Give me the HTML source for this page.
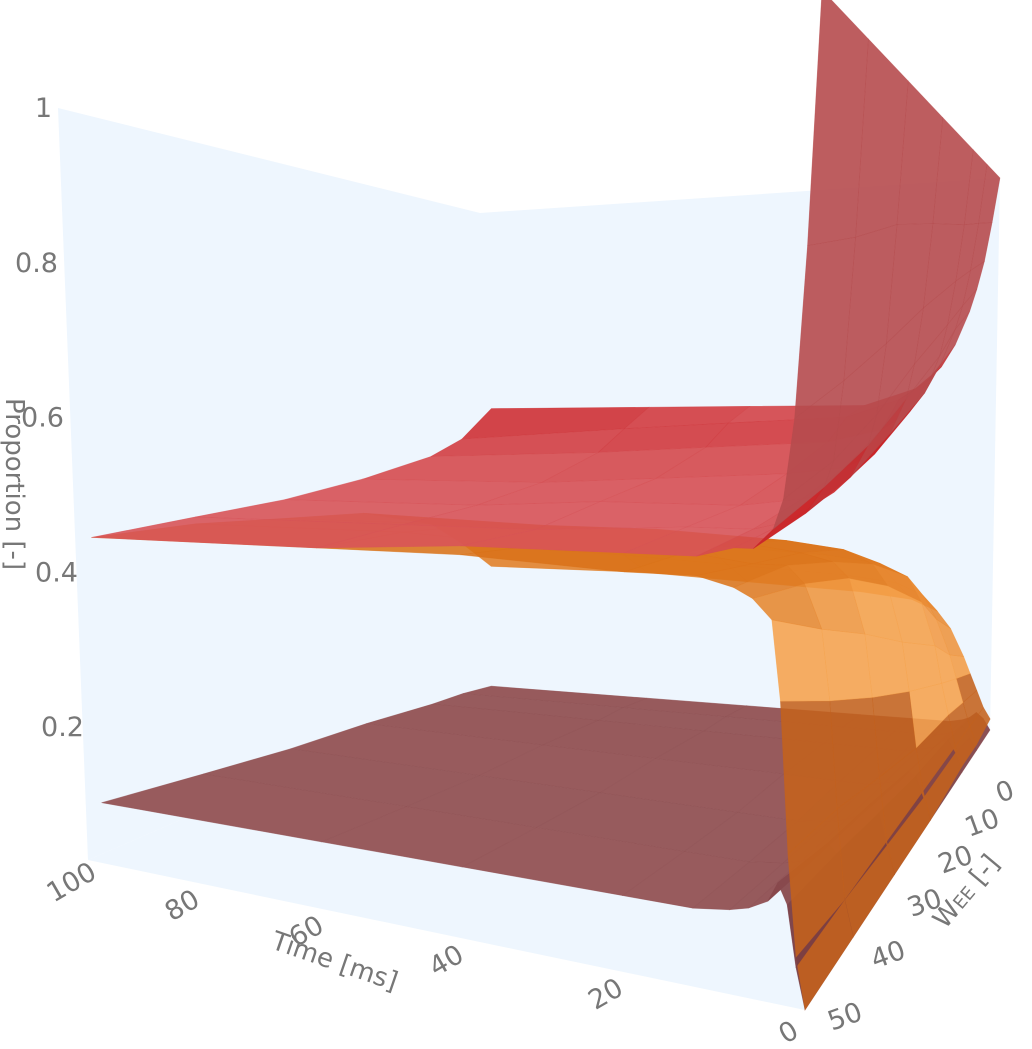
<!DOCTYPE html>
<html><head><meta charset="utf-8"><style>
html,body{margin:0;padding:0;background:#fff;}
svg{display:block;font-family:"DejaVu Sans","Liberation Sans",sans-serif;}
.tk{fill:#777;font-size:27px;}
.tt{fill:#777;font-size:26px;}
</style></head><body>
<svg id="chart" width="1032" height="1049" viewBox="0 0 1032 1049" xmlns="http://www.w3.org/2000/svg">
<g id="panes"></g>
<g id="surfaces"></g>
<g id="labels"></g>
</svg>
<script>
// ---- data ----
const timeVals = [97, 60, 40, 20, 12, 8, 6, 4, 3, 2, 1, 0];
const weeVals = [0, 5, 10, 20, 30, 40, 50];
const redVals = [
 [0.59,0.59,0.59,0.59,0.62,0.66,0.70,0.76,0.80,0.85,0.92,1.0],
 [0.53,0.55,0.56,0.57,0.60,0.63,0.66,0.72,0.76,0.82,0.90,1.0],
 [0.50,0.51,0.52,0.53,0.55,0.58,0.61,0.67,0.72,0.79,0.88,1.0],
 [0.47,0.47,0.48,0.49,0.50,0.52,0.55,0.60,0.65,0.73,0.85,1.0],
 [0.45,0.45,0.46,0.46,0.47,0.48,0.50,0.54,0.58,0.67,0.82,1.0],
 [0.44,0.44,0.44,0.45,0.45,0.46,0.47,0.50,0.53,0.62,0.78,1.0],
 [0.43,0.43,0.44,0.44,0.44,0.45,0.45,0.47,0.50,0.58,0.75,1.0]];
const orangeVals = [
 [0.26,0.26,0.25,0.24,0.23,0.21,0.18,0.13,0.10,0.07,0.04,0.02],
 [0.32,0.31,0.30,0.29,0.28,0.26,0.22,0.16,0.12,0.08,0.04,0.01],
 [0.37,0.36,0.35,0.34,0.33,0.31,0.27,0.20,0.14,0.09,0.04,0.01],
 [0.41,0.40,0.40,0.39,0.38,0.36,0.33,0.25,0.18,0.10,0.04,0.0],
 [0.42,0.42,0.41,0.41,0.40,0.39,0.37,0.30,0.22,0.12,0.04,0.0],
 [0.43,0.43,0.42,0.42,0.41,0.41,0.39,0.34,0.26,0.14,0.04,0.0],
 [0.43,0.43,0.43,0.42,0.42,0.41,0.40,0.38,0.30,0.15,0.05,0.0]];
const brownVals = [
 [0.01,0.01,0.01,0.01,0.01,0.01,0.01,0.015,0.02,0.03,0.02,0.0],
 [0.02,0.02,0.02,0.02,0.02,0.02,0.02,0.025,0.03,0.04,0.02,0.0],
 [0.025,0.025,0.025,0.025,0.025,0.025,0.03,0.035,0.045,0.05,0.03,0.0],
 [0.04,0.04,0.04,0.04,0.04,0.04,0.045,0.05,0.065,0.06,0.03,0.0],
 [0.05,0.05,0.05,0.05,0.05,0.055,0.06,0.07,0.085,0.075,0.035,0.0],
 [0.065,0.065,0.065,0.065,0.065,0.07,0.075,0.085,0.10,0.09,0.04,0.0],
 [0.08,0.08,0.08,0.08,0.08,0.085,0.09,0.10,0.12,0.10,0.04,0.0]];
const pTicks = [0.2, 0.4, 0.6, 0.8, 1];
const pTickLabels = ["0.2","0.4","0.6","0.8","1"];
const tTicks = [100, 80, 60, 40, 20, 0];
const wTicks = [0, 10, 20, 30, 40, 50];

// ---- projection ----
const C = {
 "000":[480,690], "010":[88,860], "110":[805,1010], "100":[990,730],
 "001":[480,213], "011":[58,108], "111":[822,-10], "101":[1000,178]
};
const kt = -0.27, kw = -0.29;
function su(t){const x=1-t/100;return x*(1+kt)/(1+kt*x);}
function sv(w){const x=w/50;return x*(1+kw)/(1+kw*x);}
function lerp(a,b,f){return [a[0]+(b[0]-a[0])*f,a[1]+(b[1]-a[1])*f];}
function proj(t,w,p){
  const a=su(t), b=sv(w);
  const bot=lerp(lerp(C["000"],C["100"],a),lerp(C["010"],C["110"],a),b);
  const top=lerp(lerp(C["001"],C["101"],a),lerp(C["011"],C["111"],a),b);
  return lerp(bot,top,p);
}
const NS="http://www.w3.org/2000/svg";
function mk(tag,attrs,parent){const e=document.createElementNS(NS,tag);for(const k in attrs)e.setAttribute(k,attrs[k]);parent.appendChild(e);return e;}
function pts(a){return a.map(q=>q[0].toFixed(1)+","+q[1].toFixed(1)).join(" ");}

// panes
const panes=document.getElementById("panes");
const wallT=mk("polygon",{points:pts([proj(100,0,0),proj(100,50,0),proj(100,50,1),proj(100,0,1)]),fill:"#eef6fe"},panes);


const wallW=mk("polygon",{points:pts([proj(100,0,0),proj(0,0,0),proj(0,0,1),proj(100,0,1)]),fill:"#eef6fe"},panes);


const floor=mk("polygon",{points:pts([proj(100,0,0),proj(0,0,0),proj(0,50,0),proj(100,50,0)]),fill:"#eef6fe"},panes);



// surfaces
function mix(a,b,f){return a.map((v,k)=>Math.round(v+(b[k]-v)*f));}
const surfDefs=[
 {name:"red-surface",vals:redVals,op:0.9,
  color:(s,p,y)=> s<0.35 ? mix([216,86,90],[200,30,34],s/0.35) : mix([200,30,34],[182,75,78],Math.min(1,(s-0.35)/0.3))},
 {name:"orange-surface",vals:orangeVals,op:0.88,
  color:(s,p,y)=> (p<0.1 || y>724) ? [196,98,28] : mix([218,114,24],[246,162,76],s)},
 {name:"brown-surface",vals:brownVals,op:0.95,
  color:(s,p,y)=> mix([146,82,84],[120,60,66],s)}
];
const cam=[1.9,1.7,0.7];
const quads=[];
surfDefs.forEach(s=>{
  for(let i=0;i<weeVals.length-1;i++){
    for(let j=0;j<timeVals.length-1;j++){
      const c=[[i,j],[i,j+1],[i+1,j+1],[i+1,j]];
      const P=c.map(([a,b])=>proj(timeVals[b],weeVals[a],s.vals[a][b]));
      const W=c.map(([a,b])=>[su(timeVals[b]),sv(weeVals[a]),s.vals[a][b]]);
      const cu=(W[0][0]+W[2][0])/2, cv=(W[0][1]+W[2][1])/2, cp=(W[0][2]+W[1][2]+W[2][2]+W[3][2])/4;
      const cy=(P[0][1]+P[1][1]+P[2][1]+P[3][1])/4;
      const d=Math.hypot(cu-cam[0],cv-cam[1],(cp-cam[2])*1.2);
      const dpdu=((W[1][2]+W[2][2])-(W[0][2]+W[3][2]))/2/Math.max(1e-6,(W[1][0]-W[0][0]));
      const dpdv=((W[3][2]+W[2][2])-(W[0][2]+W[1][2]))/2/Math.max(1e-6,(W[3][1]-W[0][1]));
      const slope=Math.min(1,Math.hypot(dpdu,dpdv)/3);
      const col=s.color(slope,cp,cy);
      quads.push({P,d,col,op:s.op,name:s.name});
    }
  }
});
quads.sort((a,b)=>b.d-a.d);
const sg=document.getElementById("surfaces");
quads.forEach(q=>{
  const c="rgb("+q.col.join(",")+")";
  const e=mk("polygon",{points:pts(q.P),fill:c,"fill-opacity":q.op,stroke:c,"stroke-opacity":q.op*0.6,"stroke-width":0.6},sg);
  
  
});

// labels
const lg=document.getElementById("labels");
pTicks.forEach((p,i)=>{
  const q=proj(100,50,p);
  const e=mk("text",{x:q[0]-6+(p<0.5?8:0),y:q[1]+9+(1-p)*22,"text-anchor":"end",class:"tk"},lg);
  e.textContent=pTickLabels[i];
  
  
});
tTicks.forEach(t=>{
  const q=proj(t,50,0);
  const x=q[0]-12, y=q[1]+30;
  const e=mk("text",{x:x,y:y,"text-anchor":"middle",class:"tk",transform:"rotate(-30 "+x+" "+y+")"},lg);
  e.textContent=String(t);
  
  
});
wTicks.forEach(w=>{
  const q=proj(0,w,0);
  const f=w/50;
  const x=q[0]+18+25*f, y=q[1]+70-55*f;
  const e=mk("text",{x:x,y:y,"text-anchor":"middle",class:"tk",transform:"rotate(-20 "+x+" "+y+")"},lg);
  e.textContent=String(w);
  
  
});
const yt=mk("text",{x:0,y:0,class:"tt",transform:"translate(6,398) rotate(90)"},lg);
yt.textContent="Proportion [-]";


const xt=mk("text",{x:0,y:0,class:"tt",transform:"translate(270,948) rotate(19)"},lg);
xt.textContent="Time [ms]";


const wt=mk("text",{x:0,y:0,class:"tt",transform:"translate(945,930) rotate(-50)"},lg);
wt.innerHTML='W<tspan font-size="18">EE</tspan> [-]';


</script>
</body></html>
